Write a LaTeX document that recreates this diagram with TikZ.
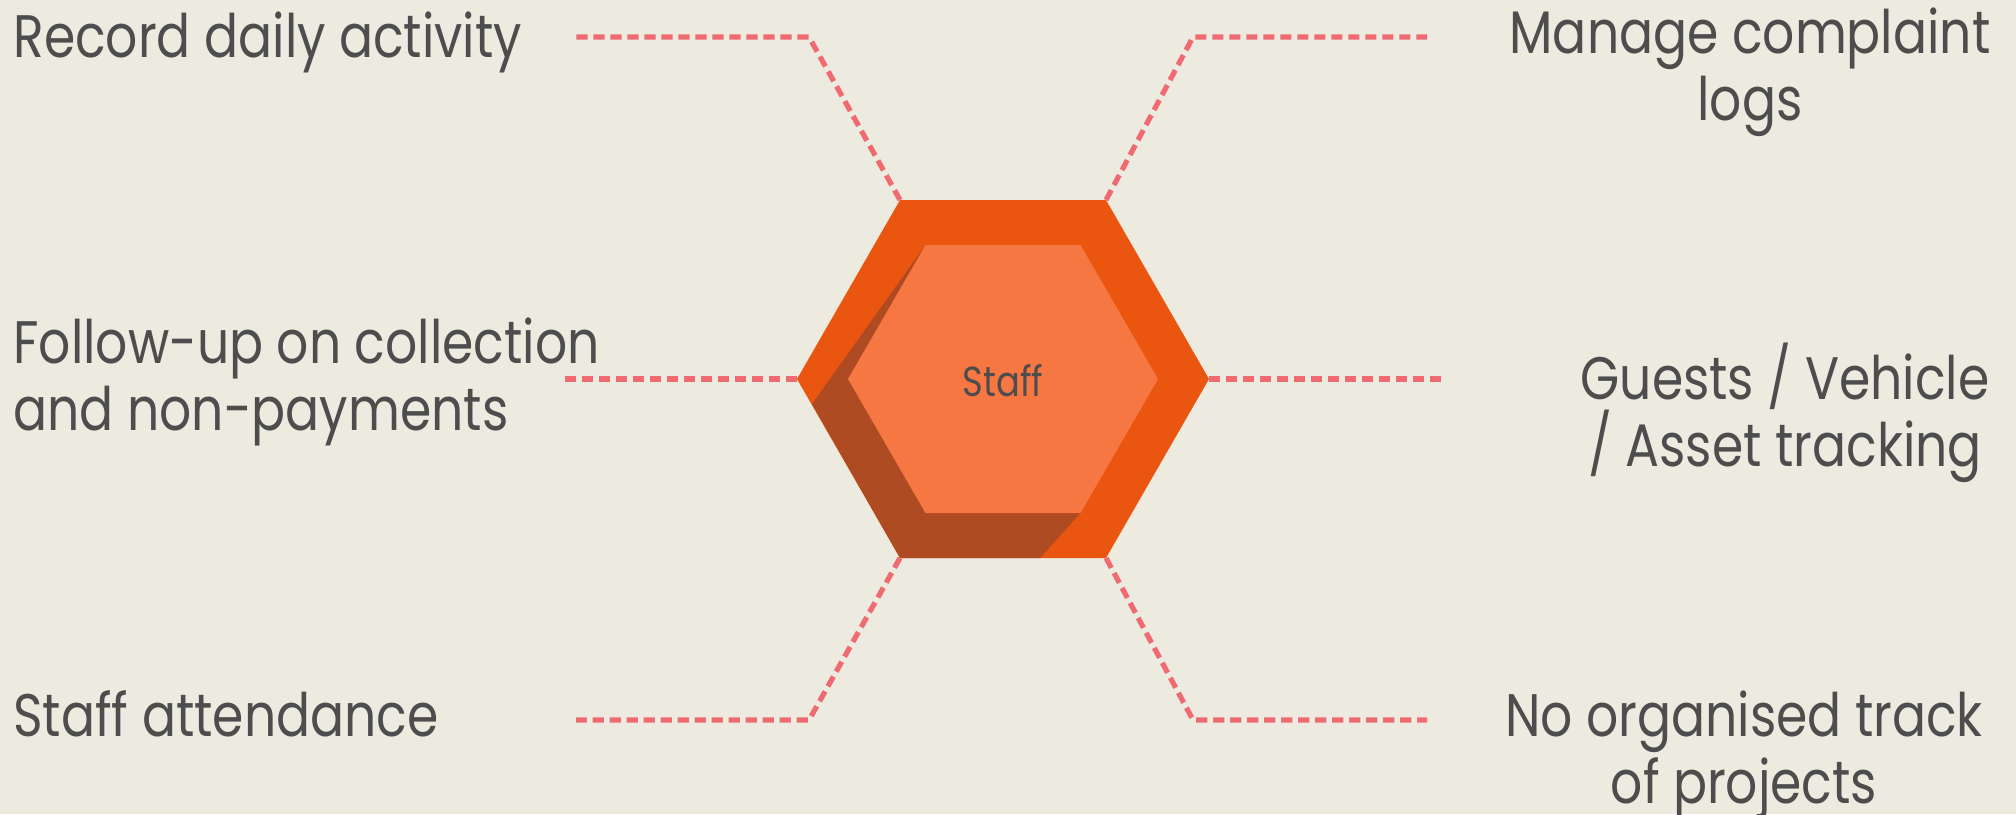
\documentclass[tikz,border=0pt]{standalone}
\usepackage{fontspec}
\setmainfont{Poppins}[FakeStretch=0.84]
\definecolor{bgcream}{HTML}{EDEBE0}
\definecolor{hexouter}{HTML}{EA5510}
\definecolor{hexinner}{HTML}{F77742}
\definecolor{hexshade}{HTML}{AF4B22}
\definecolor{textgray}{HTML}{4D4D4D}
\definecolor{leadpink}{HTML}{F06A72}
\begin{document}
\begin{tikzpicture}[x=0.5pt, y=-0.5pt,
  item/.style={text=textgray, font=\fontsize{30}{33.5}\selectfont, inner sep=0pt},
  lead/.style={draw=leadpink, line width=2.6pt, dash pattern=on 5.6pt off 2.9pt}]
\useasboundingbox (0,0) rectangle (2016,814);
\fill[bgcream] (0,0) rectangle (2016,814);

% hexagon corners
\coordinate (hl) at (797,379);
\coordinate (htl) at (900,200);
\coordinate (htr) at (1106,200);
\coordinate (hr) at (1209,379);
\coordinate (hbr) at (1106,558);
\coordinate (hbl) at (900,558);

\fill[hexouter] (hl) -- (htl) -- (htr) -- (hr) -- (hbr) -- (hbl) -- cycle;
\fill[hexshade] (925.5,245) -- (812,404) -- (hbl) -- (1040,558) -- (1080.5,513) -- cycle;
\fill[hexinner] (848,379) -- (925.5,245) -- (1080.5,245) -- (1158,379) -- (1080.5,513) -- (925.5,513) -- cycle;
\node[text=textgray, font=\fontsize{21}{24}\selectfont] (staff) at (1003,381) {Staff};

% lead line ends
\coordinate (ra) at (809,37);
\coordinate (rb) at (576,37);
\coordinate (ma) at (1193,37);
\coordinate (mb) at (1427,37);
\coordinate (fb) at (564,379);
\coordinate (gb) at (1442,379);
\coordinate (sa) at (809,720);
\coordinate (sb) at (576,720);
\coordinate (na) at (1193,720);
\coordinate (nb) at (1427,720);

\draw[lead] (htl) -- (ra) -- (rb);
\draw[lead] (htr) -- (ma) -- (mb);
\draw[lead] (hl) -- (fb);
\draw[lead] (hr) -- (gb);
\draw[lead] (hbl) -- (sa) -- (sb);
\draw[lead] (hbr) -- (na) -- (nb);

% base of a two-line node is its last line
\node[item, anchor=base west, align=left] (record) at (13,57) {Record daily activity};
\node[item, anchor=base west, align=left] (followup) at (13,430) {Follow-up on collection\\and non-payments};
\node[item, anchor=base west, align=left] (attend) at (13,736) {Staff attendance};
\node[item, anchor=base, align=center] (complaint) at (1750,120) {Manage complaint\\logs};
\node[item, anchor=base, align=center] (guests) at (1785,466) {Guests / Vehicle\\/ Asset tracking};
\node[item, anchor=base, align=center] (projects) at (1744,803) {No organised track\\of projects};
\end{tikzpicture}
\end{document}
